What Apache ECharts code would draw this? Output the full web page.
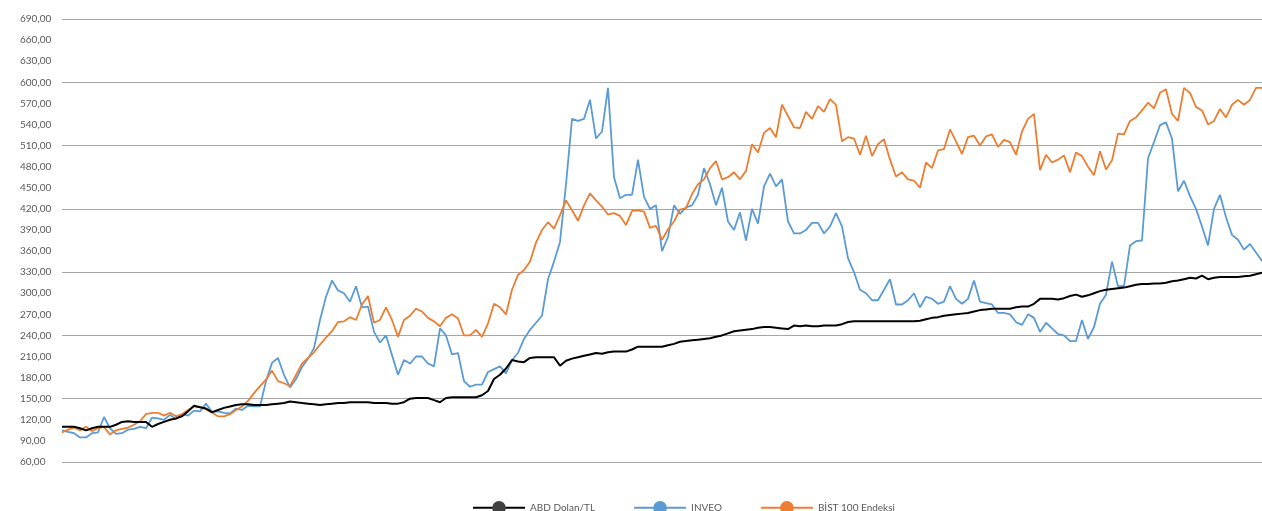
<!DOCTYPE html>
<html>
<head>
<meta charset="utf-8">
<script src="https://cdn.jsdelivr.net/npm/echarts@6/dist/echarts.min.js"></script>
<style>
html,body{margin:0;padding:0;background:#fff;}
#chart{width:1262px;height:511px;}
</style>
</head>
<body>
<div id="chart"></div>
<script>
// Series names
const seriesNames = ['ABD Dolan/TL', 'INVEO', 'BİST 100 Endeksi'];

// Y-axis tick values (labels every 30, gridlines every 90)
const yMin = 60, yMax = 690, yLabelStep = 30, yGridStep = 90;

// ABD Dolan/TL
const usdTry = [
110,110,110,108,105,108,110,110,110,113,
117,118,117,117,117,110,114,117,120,122,
125,132,140,138,136,131,134,137,139,141,
142,142,141,141,141,142,143,144,146,145,
144,143,142,141,142,143,144,144,145,145,
145,145,144,144,144,143,143,145,150,151,
151,151,148,145,151,152,152,152,152,152,
155,161,178,184,193,205,203,202,208,209,
209,209,209,197,204,207,209,211,213,215,
214,216,217,217,217,220,224,224,224,224,
224,226,228,231,232,233,234,235,236,238,
240,243,246,247,248,249,251,252,252,251,
250,249,254,253,254,253,253,254,254,254,
256,259,260,260,260,260,260,260,260,260,
260,260,260,261,263,265,266,268,269,270,
271,272,274,276,277,278,278,278,278,280,
281,281,285,292,292,292,291,293,296,298,
295,297,300,303,305,306,307,308,310,312,
313,313,314,314,315,317,318,320,322,321,
325,320,322,323,323,323,323,324,325,327,
329
];

// INVEO
const inveo = [
105,103,101,95,95,101,102,124,108,100,
101,106,107,110,108,123,122,120,127,121,
128,126,133,132,143,131,132,130,129,136,
134,140,139,139,175,201,208,184,166,178,
195,207,222,262,295,318,304,300,288,310,
280,281,245,230,240,212,184,205,200,210,
210,200,196,250,240,213,215,175,167,170,
170,188,192,196,186,205,215,235,248,258,
268,320,345,373,455,548,545,548,575,520,
530,592,465,435,440,440,490,437,420,425,
360,380,425,413,422,425,440,478,455,425,
450,402,390,415,375,420,399,452,470,452,
462,402,385,385,390,400,400,385,395,414,
395,350,330,305,300,290,290,305,320,284,
284,290,300,280,295,292,285,288,310,292,
285,292,318,288,286,284,272,272,270,259,
255,270,265,245,258,250,242,240,232,232,
262,235,252,285,298,345,310,310,368,374,
375,492,515,539,543,520,445,460,438,420,
395,368,420,440,408,383,376,362,370,358,
346
];

// BİST 100 Endeksi
const bist100 = [
102,106,109,105,110,104,108,110,99,105,
107,109,113,118,128,130,130,126,130,125,
128,134,139,138,135,130,125,125,128,134,
139,147,158,168,177,190,175,172,168,184,
200,208,216,227,237,246,259,260,266,262,
284,296,258,262,280,262,238,262,268,278,
274,265,260,253,265,270,264,240,240,248,
238,257,285,280,270,305,326,333,345,372,
390,401,392,411,432,418,403,425,442,432,
423,412,414,410,397,417,418,416,393,396,
376,391,402,419,421,441,455,462,478,488,
462,465,472,462,474,512,500,528,535,522,
568,552,536,535,558,548,566,558,576,568,
516,522,520,497,524,495,512,519,490,466,
472,462,460,450,486,478,503,505,533,516,
498,522,524,510,523,526,508,518,515,497,
530,548,555,475,497,486,490,496,472,500,
495,480,468,502,476,489,527,526,545,550,
560,571,563,585,590,555,545,592,585,565,
560,540,545,562,550,568,575,568,575,592,
592
];

// Category index (one per observation)
const categories = usdTry.map((_, i) => String(i + 1));

const chart = echarts.init(document.getElementById('chart'), null, {renderer: 'canvas'});
const fmt = v => v.toFixed(2).replace('.', ',');
const fontFamily = 'Lato, "Open Sans", sans-serif';

chart.setOption({
  animation: false,
  backgroundColor: '#ffffff',
  color: ['#000000', '#5b9bd5', '#ed7d31'],
  grid: {left: 62, right: 0, top: 19, bottom: 49, containLabel: false},
  legend: {
    data: seriesNames,
    left: 467,
    top: 496,
    itemWidth: 52,
    itemHeight: 17,
    itemGap: 38,
    textStyle: {color: '#595959', fontSize: 10, fontFamily: fontFamily}
  },
  xAxis: {
    type: 'category',
    data: categories,
    boundaryGap: false,
    show: false
  },
  yAxis: [
    {
      type: 'value',
      min: yMin,
      max: yMax,
      interval: yLabelStep,
      axisLine: {show: false},
      axisTick: {show: false},
      splitLine: {show: false},
      axisLabel: {
        align: 'left',
        margin: 42,
        color: '#595959',
        fontSize: 10,
        fontFamily: fontFamily,
        formatter: fmt
      }
    },
    {
      type: 'value',
      min: 0,
      max: yMax - yMin,
      interval: yGridStep,
      position: 'left',
      axisLine: {show: false},
      axisTick: {show: false},
      axisLabel: {show: false},
      splitLine: {show: true, lineStyle: {color: '#a6a6a6', width: 1}}
    }
  ],
  series: [
    {
      name: seriesNames[0], type: 'line', data: usdTry, yAxisIndex: 0,
      symbol: 'circle', showSymbol: false, lineStyle: {width: 2, color: '#000000'},
      itemStyle: {color: '#404040'}, z: 4
    },
    {
      name: seriesNames[1], type: 'line', data: inveo, yAxisIndex: 0,
      symbol: 'circle', showSymbol: false, lineStyle: {width: 1.8, color: '#5b9bd5'},
      itemStyle: {color: '#5b9bd5'}, z: 2
    },
    {
      name: seriesNames[2], type: 'line', data: bist100, yAxisIndex: 0,
      symbol: 'circle', showSymbol: false, lineStyle: {width: 1.8, color: '#ed7d31'},
      itemStyle: {color: '#ed7d31'}, z: 3
    }
  ]
});
</script>
</body>
</html>
